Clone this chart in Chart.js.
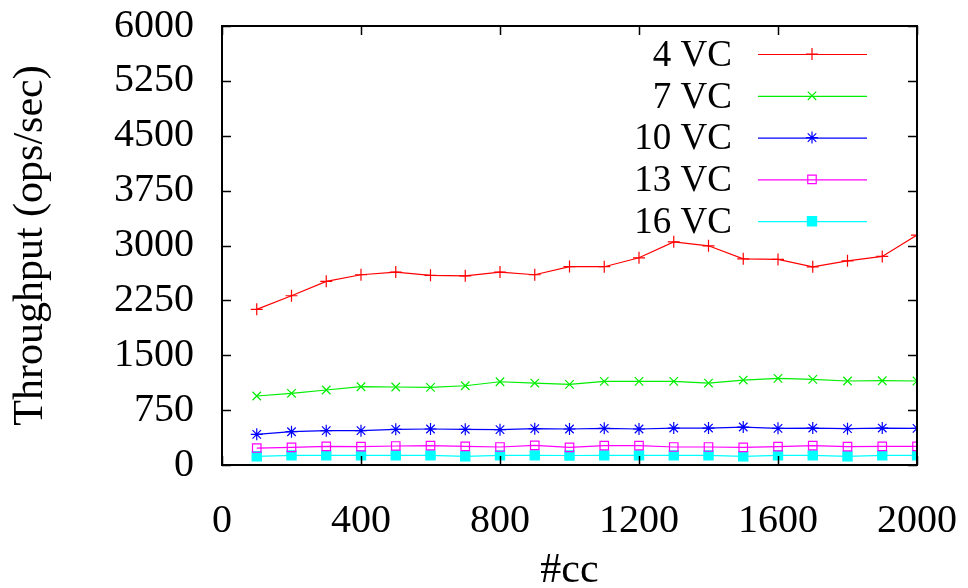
<!DOCTYPE html>
<html>
<head>
<meta charset="utf-8">
<script src="https://cdn.jsdelivr.net/npm/chart.js@4.4.1/dist/chart.umd.min.js"></script>
<style>
  html, body { margin: 0; padding: 0; background: #ffffff; }
  #wrap { width: 968px; height: 588px; position: relative; }
</style>
</head>
<body>
<div id="wrap"><canvas id="c" width="968" height="588"></canvas></div>
<script>
// ---- data ----
const cc = [100, 200, 300, 400, 500, 600, 700, 800, 900, 1000,
            1100, 1200, 1300, 1400, 1500, 1600, 1700, 1800, 1900, 2000];
const vc4  = [2127, 2313, 2510, 2600, 2637, 2592, 2586, 2637, 2600, 2712,
              2710, 2832, 3050, 2996, 2818, 2810, 2709, 2791, 2851, 3142];
const vc7  = [943, 980, 1025, 1070, 1066, 1061, 1083, 1138, 1120, 1102,
              1143, 1143, 1143, 1120, 1161, 1184, 1170, 1148, 1152, 1148];
const vc10 = [419, 455, 469, 469, 488, 492, 488, 483, 497, 492,
              501, 492, 505, 505, 519, 501, 505, 497, 505, 501];
const vc13 = [232, 242, 255, 251, 260, 264, 255, 246, 269, 240,
              264, 264, 246, 246, 242, 251, 264, 251, 255, 255];
const vc16 = [119, 132, 132, 132, 132, 132, 119, 132, 132, 130,
              132, 132, 132, 132, 119, 132, 132, 119, 132, 132];
const seriesLabels = ['4 VC', '7 VC', '10 VC', '13 VC', '16 VC'];
const xTickValues = [0, 400, 800, 1200, 1600, 2000];
const yTickValues = [0, 750, 1500, 2250, 3000, 3750, 4500, 5250, 6000];
const xTitle = '#cc';
const yTitle = 'Throughput (ops/sec)';

// ---- styling ----
const FONT = "'Liberation Serif', 'Times New Roman', serif";
const TICK_SIZE = 40;
const TITLE_SIZE = 42;
const KEY_SIZE = 37;
const styles = [
  { color: '#ff0000', point: 'cross',    radius: 6,   fill: false },
  { color: '#00ee00', point: 'crossRot', radius: 6,   fill: false },
  { color: '#0000ff', point: 'star',     radius: 6,   fill: false },
  { color: '#ff00ff', point: 'rect',     radius: 6,   fill: false },
  { color: '#00ffff', point: 'rect',     radius: 6.5, fill: true  }
];
const seriesValues = [vc4, vc7, vc10, vc13, vc16];

const datasets = seriesValues.map((vals, i) => ({
  label: seriesLabels[i],
  data: cc.map((x, j) => ({ x: x, y: vals[j] })),
  borderColor: styles[i].color,
  backgroundColor: styles[i].fill ? styles[i].color : 'rgba(0,0,0,0)',
  pointBorderColor: styles[i].color,
  pointBackgroundColor: styles[i].fill ? styles[i].color : 'rgba(0,0,0,0)',
  pointStyle: styles[i].point,
  pointRadius: styles[i].radius,
  pointBorderWidth: 1.2,
  borderWidth: 1.2,
  tension: 0,
  fill: false
}));

// Border + inward mirrored ticks (gnuplot style)
const frameTicks = {
  id: 'frameTicks',
  afterDatasetsDraw(chart) {
    const { ctx, chartArea: a, scales } = chart;
    ctx.save();
    ctx.strokeStyle = '#000';
    ctx.lineWidth = 1.5;
    const L = 9;
    ctx.beginPath();
    xTickValues.forEach(v => {
      const px = Math.round(scales.x.getPixelForValue(v)) + 0.5;
      ctx.moveTo(px, a.bottom); ctx.lineTo(px, a.bottom - L);
      ctx.moveTo(px, a.top); ctx.lineTo(px, a.top + L);
    });
    yTickValues.forEach(v => {
      const py = Math.round(scales.y.getPixelForValue(v)) + 0.5;
      ctx.moveTo(a.left, py); ctx.lineTo(a.left + L, py);
      ctx.moveTo(a.right, py); ctx.lineTo(a.right - L, py);
    });
    ctx.stroke();
    ctx.lineWidth = 2;
    ctx.strokeRect(a.left, a.top, a.right - a.left, a.bottom - a.top);
    ctx.restore();
  }
};

// gnuplot-style key: text right-aligned, then sample line with marker
const gnuKey = {
  id: 'gnuKey',
  afterDatasetsDraw(chart) {
    const { ctx } = chart;
    const textRight = 732, lineL = 758, lineR = 867, markX = 812;
    const y0 = 54, dy = 41.8;
    ctx.save();
    chart.data.datasets.forEach((ds, i) => {
      const y = y0 + i * dy;
      ctx.fillStyle = '#000';
      ctx.font = KEY_SIZE + 'px ' + FONT;
      ctx.textAlign = 'right';
      ctx.textBaseline = 'middle';
      ctx.fillText(ds.label, textRight, y + 2);
      ctx.strokeStyle = ds.borderColor;
      ctx.lineWidth = ds.borderWidth;
      ctx.beginPath();
      ctx.moveTo(lineL, y + 0.5); ctx.lineTo(lineR, y + 0.5);
      ctx.stroke();
      ctx.fillStyle = ds.pointBackgroundColor;
      ctx.strokeStyle = ds.pointBorderColor;
      ctx.lineWidth = ds.pointBorderWidth;
      Chart.helpers.drawPoint(ctx, { pointStyle: ds.pointStyle, radius: ds.pointRadius, rotation: 0, borderWidth: ds.pointBorderWidth }, markX, y);
      if (ds.pointBackgroundColor !== 'rgba(0,0,0,0)') ctx.fill();
    });
    ctx.restore();
  }
};

new Chart(document.getElementById('c'), {
  type: 'line',
  data: { datasets: datasets },
  options: {
    responsive: false,
    animation: false,
    layout: { padding: { top: 26, right: 51, left: 0, bottom: 0 } },
    plugins: { legend: { display: false }, tooltip: { enabled: false } },
    elements: { line: { borderJoinStyle: 'miter' } },
    scales: {
      x: {
        type: 'linear',
        min: 0, max: 2000,
        afterBuildTicks: (s) => { s.ticks = xTickValues.map(v => ({ value: v })); },
        afterFit: (s) => { s.height = 123; s.paddingLeft = 0; s.paddingRight = 0; },
        grid: { display: false, drawTicks: false },
        border: { display: false },
        ticks: { color: '#000', font: { family: FONT, size: TICK_SIZE }, padding: 32, maxRotation: 0, autoSkip: false,
                 callback: (v) => String(v) },
        title: { display: true, text: xTitle, color: '#000', font: { family: FONT, size: TITLE_SIZE, lineHeight: 0.8 }, padding: { top: 2, bottom: 0 } }
      },
      y: {
        type: 'linear',
        min: 0, max: 6000,
        afterBuildTicks: (s) => { s.ticks = yTickValues.map(v => ({ value: v })); },
        afterFit: (s) => { s.width = 222; s.paddingTop = 0; s.paddingBottom = 0; },
        grid: { display: false, drawTicks: false },
        border: { display: false },
        ticks: { color: '#000', font: { family: FONT, size: TICK_SIZE }, padding: 28, autoSkip: false,
                 callback: (v) => String(v) },
        title: { display: true, text: yTitle, color: '#000', font: { family: FONT, size: TITLE_SIZE }, padding: { top: 6, bottom: 0 } }
      }
    }
  },
  plugins: [frameTicks, gnuKey]
});
</script>
</body>
</html>
